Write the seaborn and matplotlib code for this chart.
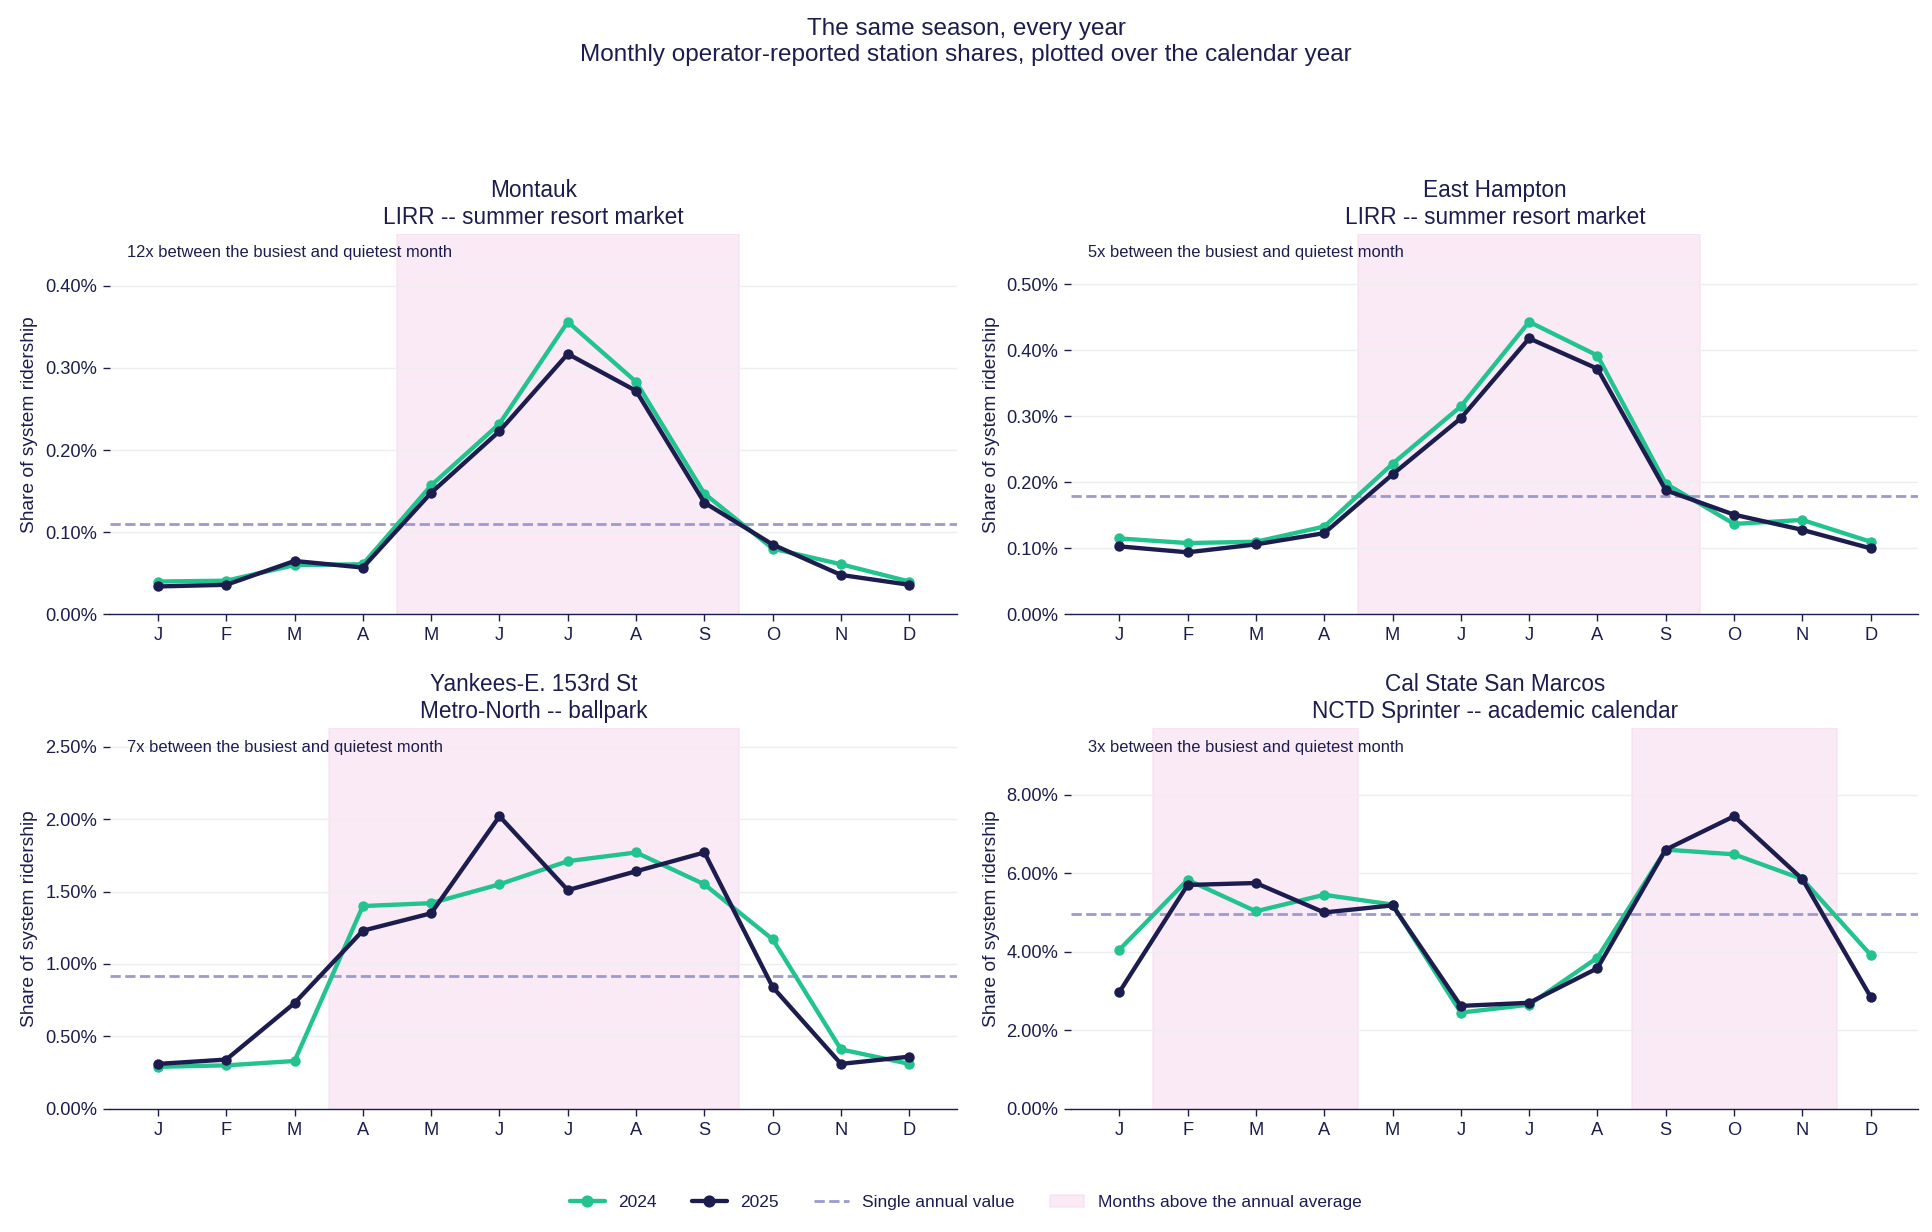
import numpy as np
import pandas as pd
import matplotlib.pyplot as plt
import seaborn as sns
from matplotlib.ticker import FuncFormatter
from matplotlib.lines import Line2D
from matplotlib.patches import Patch

months = ['J', 'F', 'M', 'A', 'M', 'J', 'J', 'A', 'S', 'O', 'N', 'D']

titles = ['Montauk\nLIRR -- summer resort market',
          'East Hampton\nLIRR -- summer resort market',
          'Yankees-E. 153rd St\nMetro-North -- ballpark',
          'Cal State San Marcos\nNCTD Sprinter -- academic calendar']
notes = ['12x between the busiest and quietest month',
         '5x between the busiest and quietest month',
         '7x between the busiest and quietest month',
         '3x between the busiest and quietest month']

montauk_2024 = [0.040, 0.041, 0.060, 0.061, 0.157, 0.232, 0.356, 0.283, 0.147, 0.080, 0.061, 0.040]
montauk_2025 = [0.034, 0.036, 0.065, 0.057, 0.148, 0.223, 0.317, 0.272, 0.136, 0.085, 0.048, 0.036]
easthampton_2024 = [0.115, 0.108, 0.110, 0.133, 0.228, 0.315, 0.443, 0.392, 0.198, 0.137, 0.143, 0.110]
easthampton_2025 = [0.103, 0.094, 0.106, 0.123, 0.212, 0.297, 0.418, 0.372, 0.188, 0.151, 0.128, 0.100]
yankees_2024 = [0.29, 0.30, 0.33, 1.40, 1.42, 1.55, 1.71, 1.77, 1.55, 1.17, 0.41, 0.31]
yankees_2025 = [0.31, 0.34, 0.73, 1.23, 1.35, 2.02, 1.51, 1.64, 1.77, 0.84, 0.31, 0.36]
csusm_2024 = [4.05, 5.83, 5.03, 5.45, 5.20, 2.45, 2.65, 3.85, 6.60, 6.48, 5.85, 3.92]
csusm_2025 = [2.97, 5.70, 5.75, 5.00, 5.18, 2.62, 2.70, 3.58, 6.60, 7.45, 5.85, 2.85]

annual = [0.11, 0.18, 0.92, 4.95]
# months above average, as (first, last) month index
spans = [[(4, 8)], [(4, 8)], [(3, 8)], [(1, 3), (8, 10)]]
yticks = [[0, 0.1, 0.2, 0.3, 0.4], [0, 0.1, 0.2, 0.3, 0.4, 0.5],
          [0, 0.5, 1.0, 1.5, 2.0, 2.5], [0, 2, 4, 6, 8]]

series = [(montauk_2024, montauk_2025), (easthampton_2024, easthampton_2025),
          (yankees_2024, yankees_2025), (csusm_2024, csusm_2025)]

green = '#22c38e'
navy = '#1c1d4e'
dash = '#9b9bcf'
pink = '#f8dcef'

sns.set_style('white')
plt.rcParams['font.family'] = ['Arial', 'Liberation Sans', 'DejaVu Sans']
plt.rcParams['text.color'] = navy
plt.rcParams['axes.labelcolor'] = navy
plt.rcParams['xtick.color'] = navy
plt.rcParams['ytick.color'] = navy

fig, axes = plt.subplots(2, 2, figsize=(15.456, 9.856), dpi=125)
for i, ax in enumerate(axes.flat):
    a, b = series[i]
    df = pd.DataFrame({'x': list(range(12)) * 2, 'y': a + b,
                       'year': ['2024'] * 12 + ['2025'] * 12})
    for s0, s1 in spans[i]:
        ax.axvspan(s0 - 0.5, s1 + 0.5, color=pink, alpha=0.6, zorder=0)
    ax.axhline(annual[i], color=dash, ls='--', lw=1.6, zorder=1)
    sns.lineplot(data=df, x='x', y='y', hue='year', palette=[green, navy],
                 marker='o', markersize=6, markeredgewidth=0, lw=2.5,
                 legend=False, ax=ax, zorder=3)
    top = max(max(a), max(b)) * 1.3
    ax.set_ylim(0, top)
    ax.set_xlim(-0.7, 11.7)
    ax.set_yticks(yticks[i])
    ax.yaxis.set_major_formatter(FuncFormatter(lambda v, p: f'{v:.2f}%'))
    ax.set_xticks(range(12))
    ax.set_xticklabels(months)
    ax.set_xlabel('')
    ax.set_ylabel('Share of system ridership', fontsize=11)
    ax.grid(axis='y', color='#eeeeee', lw=0.8)
    ax.set_axisbelow(True)
    for sp in ['top', 'right', 'left']:
        ax.spines[sp].set_visible(False)
    ax.spines['bottom'].set_color(navy)
    ax.tick_params(axis='y', left=True, length=4, labelsize=10.5)
    ax.tick_params(axis='x', bottom=True, length=4, labelsize=10.5)
    ax.set_title(titles[i], fontsize=13, color=navy)
    ax.text(0.02, 0.97, notes[i], transform=ax.transAxes, fontsize=9.5,
            va='top', ha='left')

fig.suptitle('The same season, every year\nMonthly operator-reported station shares, plotted over the calendar year',
             fontsize=14, color=navy, y=0.985)
handles = [Line2D([], [], color=green, marker='o', lw=2.5, label='2024'),
           Line2D([], [], color=navy, marker='o', lw=2.5, label='2025'),
           Line2D([], [], color=dash, ls='--', lw=1.6, label='Single annual value'),
           Patch(color=pink, alpha=0.6, label='Months above the annual average')]
fig.legend(handles=handles, loc='lower center', ncol=4, frameon=False,
           fontsize=10, bbox_to_anchor=(0.5, 0.005))
fig.subplots_adjust(left=0.057, right=0.993, top=0.81, bottom=0.1,
                    hspace=0.3, wspace=0.135)
fig.savefig('out.png', dpi=125)
